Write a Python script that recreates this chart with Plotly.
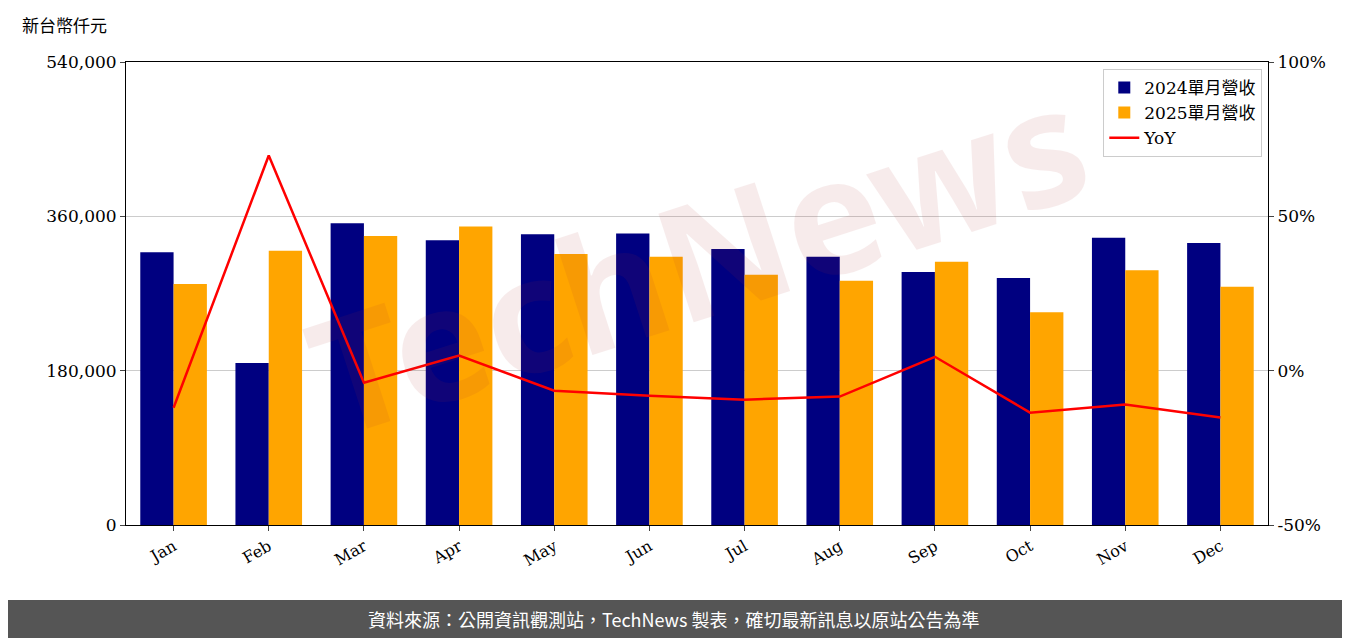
import plotly.graph_objects as go

months = ["Jan", "Feb", "Mar", "Apr", "May", "Jun", "Jul", "Aug", "Sep", "Oct", "Nov", "Dec"]
rev_2024 = [318000, 189000, 352000, 332000, 339000, 340000, 322000, 313000, 295000, 288000, 335000, 329000]
rev_2025 = [281000, 320000, 337000, 348000, 316000, 313000, 292000, 285000, 307000, 248000, 297000, 278000]
yoy = [-12.0, 69.7, -3.9, 4.9, -6.5, -8.1, -9.4, -8.4, 4.5, -13.6, -11.0, -15.2]
yoy_ticks = [-50, 0, 50, 100]

serif = "DejaVu Serif"
cjk = "Noto Sans CJK TC"

fig = go.Figure()
fig.add_trace(go.Bar(x=months, y=rev_2024, name="2024單月營收", marker_color="#000080",
                     marker_line_width=0, offsetgroup=0))
fig.add_trace(go.Bar(x=months, y=rev_2025, name="2025單月營收", marker_color="#FFA500",
                     marker_line_width=0, offsetgroup=1))
fig.add_trace(go.Scatter(x=months, y=yoy, name="YoY", mode="lines", yaxis="y2",
                         line=dict(color="red", width=2.5)))

fig.update_layout(
    width=1342, height=630,
    margin=dict(l=118, r=82, t=54, b=113, autoexpand=False),
    paper_bgcolor="white", plot_bgcolor="white",
    bargap=0.3, bargroupgap=0,
    font=dict(family=serif, size=16, color="black"),
    showlegend=True,
    legend=dict(x=0.995, y=0.985, xanchor="right", yanchor="top",
                bordercolor="#cccccc", borderwidth=1, bgcolor="rgba(255,255,255,0.8)",
                font=dict(family=serif + ", " + cjk, size=17)),
    xaxis=dict(showline=True, linecolor="black", mirror=True, ticks="outside",
               tickangle=-30, tickfont=dict(size=16), range=[-0.5, 11.5]),
    yaxis=dict(range=[0, 540000], tickvals=[0, 180000, 360000, 540000],
               tickformat=",", showgrid=True, gridcolor="#cccccc", showline=True,
               linecolor="black", ticks="outside", zeroline=False, tickfont=dict(size=17)),
    yaxis2=dict(range=[-50, 100], tickvals=yoy_ticks,
                ticktext=[f"{v}%" for v in yoy_ticks],
                overlaying="y", side="right", showgrid=False, showline=True,
                linecolor="black", ticks="outside", zeroline=False, tickfont=dict(size=17)),
)

fig.add_annotation(text="新台幣仟元", xref="paper", yref="paper", x=-0.093, y=1.05,
                   xanchor="left", yanchor="bottom", showarrow=False,
                   font=dict(family=cjk, size=17))
fig.add_annotation(text="<b>TechNews</b>", xref="paper", yref="paper", x=0.5, y=0.58,
                   showarrow=False, textangle=-18, opacity=0.09,
                   font=dict(family="Noto Sans", size=160, color="#b03030"))
fig.add_shape(type="rect", xref="paper", yref="paper", x0=-0.12, x1=1.1, y0=-0.162, y1=-0.26,
              fillcolor="#555555", line_width=0, layer="above")
fig.add_annotation(text="資料來源：公開資訊觀測站，TechNews 製表，確切最新訊息以原站公告為準",
                   xref="paper", yref="paper", x=0.48, y=-0.203, yanchor="middle",
                   showarrow=False, font=dict(family=cjk, size=18, color="white"))

fig.write_html("out.html")
